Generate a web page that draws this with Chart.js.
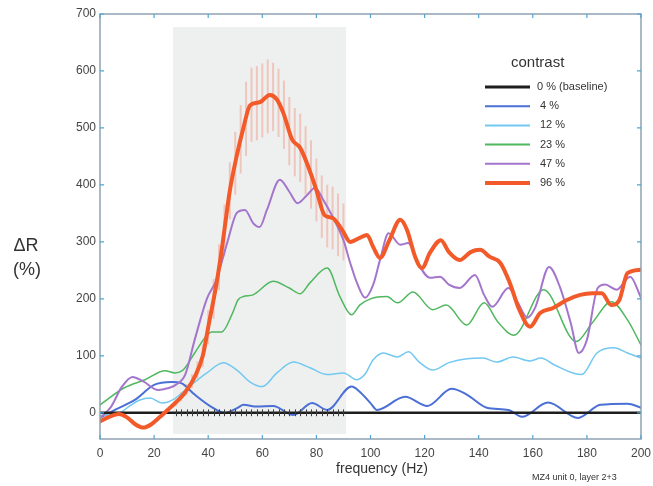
<!DOCTYPE html>
<html><head><meta charset="utf-8">
<script src="https://cdn.jsdelivr.net/npm/chart.js@4/dist/chart.umd.min.js"></script>
<style>html,body{margin:0;padding:0;background:#fff}#wrap{width:653px;height:486px;position:relative}</style>
</head><body><div id="wrap"><canvas id="c" width="653" height="486"></canvas></div>
<script>
// ---- data ----
const xTicks = [0, 20, 40, 60, 80, 100, 120, 140, 160, 180, 200];
const yTicks = [0, 100, 200, 300, 400, 500, 600, 700];
const seriesLabels = ['0 % (baseline)', '4 %', '12 %', '23 %', '47 %', '96 %'];
const legendTitle = 'contrast';
const xTitle = 'frequency (Hz)';
const yTitle = ['\u0394R', '(%)'];
const footnote = 'MZ4 unit 0, layer 2+3';

const freqBase = [0, 200];
const valBase = [0, 0];

const freq4 = [0, 5.5, 13, 20, 26.6, 30, 35, 41, 46, 51, 53, 58, 64, 71.5, 78.4, 84, 93, 96, 100, 102.4, 112.8, 121, 130, 135.6, 143, 151, 156, 165.6, 176.7, 185, 195, 200];
const val4 = [-9, 5, 23, 49, 54, 52, 32, 11, 0, 9, 14, 11, 12, -4, 17, 5, 46, 37, 17, 5, 28, 12, 42, 32, 9, 5, -7, 18, -9, 14, 16, 9];

const freq12 = [0, 4, 7.4, 11, 14.5, 18.5, 23, 27, 33, 39.5, 45.6, 50.6, 55.5, 60, 65.4, 71.5, 77.6, 84, 90, 95, 98, 101, 104.7, 110, 114, 118, 123, 129, 135.6, 141.6, 146.7, 152.7, 159, 163, 168, 178, 183.7, 190, 195, 200];
const val12 = [-5, -3, 0, 12, 22, 26, 17, 23, 46, 70, 88, 75, 54, 46, 70, 89, 79, 67, 70, 58, 68, 93, 105, 98, 107, 89, 75, 88, 95, 96, 89, 98, 91, 96, 84, 67, 105, 114, 105, 96];

const freq23 = [0, 9, 16.6, 24, 27.7, 30.7, 35, 39, 41.4, 45, 49, 51, 53, 56.6, 64, 70, 74, 77.6, 84, 88.7, 93, 96, 100, 106, 110, 115.7, 123, 128, 135.6, 142, 147, 153, 164, 176, 182, 189, 195, 200];
const val23 = [14, 44, 58, 74, 70, 75, 105, 133, 142, 142, 175, 198, 204, 207, 231, 219, 209, 228, 254, 204, 172, 189, 200, 204, 193, 212, 181, 189, 154, 193, 160, 136, 216, 125, 158, 195, 163, 119];

const freq47 = [0, 4, 8, 12, 16, 21.5, 25, 28, 31.5, 35, 39.5, 43, 47, 50.6, 53.6, 56.6, 59, 61.7, 66.5, 70, 73, 76.5, 79.5, 82.5, 86, 90, 92.5, 95, 98, 101, 103.5, 106.7, 111, 114, 117.5, 122, 125.7, 129, 133, 138.6, 142, 145, 151, 154.5, 158, 161, 166, 170, 174, 177, 180, 184, 186.7, 191, 196, 200];
const val47 = [-9, 10, 45, 63, 55, 40, 43, 49, 67, 128, 200, 233, 298, 351, 356, 333, 326, 356, 409, 388, 368, 382, 395, 374, 344, 303, 263, 228, 202, 225, 268, 315, 295, 298, 263, 237, 239, 225, 219, 242, 207, 186, 219, 193, 167, 186, 256, 221, 158, 105, 128, 219, 225, 216, 239, 202];

const freq96 = [0, 3, 7, 10, 13, 16, 19, 22, 25, 28, 31, 35, 38, 40, 43, 45, 48, 50.5, 53, 55.5, 59, 62.8, 65.4, 67.8, 71, 74, 77, 80, 83, 86, 89.5, 92.5, 96, 98.7, 101, 103.5, 107, 111, 113.5, 116.5, 119, 122, 126, 129, 133, 137, 140.5, 144, 148, 151.5, 155, 159, 162.7, 167.5, 172.6, 177.5, 182, 185.5, 189, 192, 195, 200];
const val96 = [-15, -8, -2, -8, -20, -26, -20, -8, 5, 18, 33, 63, 100, 150, 225, 286, 390, 450, 500, 540, 545, 558, 550, 526, 480, 465, 432, 391, 347, 342, 321, 300, 307, 312, 291, 272, 303, 339, 321, 274, 254, 281, 303, 282, 268, 282, 286, 274, 263, 228, 181, 151, 175, 184, 198, 207, 210, 210, 189, 198, 245, 251];

// error bars (half lengths) on a common frequency grid
const errFreq = [28, 30, 32, 34, 36, 38, 40, 42, 44, 46, 48, 50, 52, 54, 56, 58, 60, 62, 64, 66, 68, 70, 72, 74, 76, 78, 80, 82, 84, 86, 88, 90];
const err96 = [6, 8, 10, 12, 15, 20, 30, 35, 40, 45, 50, 55, 60, 65, 65, 65, 65, 65, 60, 60, 60, 60, 60, 60, 60, 60, 55, 55, 55, 55, 55, 50];
const errBase = [6, 6, 6, 6, 6, 6, 6, 6, 6, 6, 6, 6, 6, 6, 6, 6, 6, 6, 6, 6, 6, 6, 6, 6, 6, 6, 6, 6, 6, 6, 6, 6];

// shaded stimulus window
const shadeFreq = [27, 91];
const shadeVal = [-37, 677];

// ---- styles ----
const colors = ['#1e1e1e', '#4a6fd6', '#72c8f0', '#4fb85e', '#a475cc', '#f25a2a'];
const widths = [2.5, 2, 1.5, 1.5, 2, 4];
const orders = [1, 5, 4, 3, 2, 0];
const FONT = '"Liberation Sans", Arial, sans-serif';

const freqs = [freqBase, freq4, freq12, freq23, freq47, freq96];
const vals = [valBase, val4, val12, val23, val47, val96];

function zip(f, v) { return f.map((x, i) => ({ x: x, y: v[i] })); }
function interp(f, v, x) {
  for (let i = 0; i < f.length - 1; i++) {
    if (x >= f[i] && x <= f[i + 1]) { const t = (x - f[i]) / (f[i + 1] - f[i]); return v[i] + t * (v[i + 1] - v[i]); }
  }
  return v[v.length - 1];
}

const datasets = seriesLabels.map((lab, i) => ({
  label: lab,
  data: zip(freqs[i], vals[i]),
  borderColor: colors[i],
  borderWidth: widths[i],
  pointRadius: 0,
  fill: false,
  cubicInterpolationMode: 'monotone',
  order: orders[i],
  borderCapStyle: 'round',
  borderJoinStyle: 'round'
}));

const decor = {
  id: 'decor',
  beforeDatasetsDraw(chart) {
    const { ctx, chartArea: a, scales: { x, y } } = chart;
    ctx.save();
    ctx.fillStyle = '#eef0f0';
    const x0 = x.getPixelForValue(shadeFreq[0]), x1 = x.getPixelForValue(shadeFreq[1]);
    const y0 = y.getPixelForValue(shadeVal[1]), y1 = y.getPixelForValue(shadeVal[0]);
    ctx.fillRect(x0, y0, x1 - x0, y1 - y0);
    // 96% error bars
    ctx.strokeStyle = 'rgba(242,110,80,0.32)';
    ctx.lineWidth = 2;
    errFreq.forEach((f, i) => {
      const c = interp(freq96, val96, f);
      const px = x.getPixelForValue(f);
      ctx.beginPath();
      ctx.moveTo(px, y.getPixelForValue(c - err96[i]));
      ctx.lineTo(px, y.getPixelForValue(c + err96[i]));
      ctx.stroke();
    });
    ctx.restore();
  },
  afterDatasetsDraw(chart) {
    const { ctx, chartArea: a, scales: { x, y } } = chart;
    ctx.save();
    // baseline error ticks
    ctx.strokeStyle = '#3a3a3a';
    ctx.lineWidth = 1;
    errFreq.forEach((f, i) => {
      const px = Math.round(x.getPixelForValue(f)) + 0.5;
      ctx.beginPath();
      ctx.moveTo(px, y.getPixelForValue(-errBase[i]));
      ctx.lineTo(px, y.getPixelForValue(errBase[i]));
      ctx.stroke();
    });
    // frame
    ctx.strokeStyle = '#8fa2b2';
    ctx.lineWidth = 1.5;
    ctx.strokeRect(a.left, a.top, a.right - a.left, a.bottom - a.top);
    // inward ticks
    ctx.strokeStyle = '#4ea5d6';
    ctx.lineWidth = 1.2;
    const tl = 4;
    xTicks.forEach(v => {
      const px = x.getPixelForValue(v);
      ctx.beginPath();
      ctx.moveTo(px, a.bottom); ctx.lineTo(px, a.bottom - tl);
      ctx.moveTo(px, a.top); ctx.lineTo(px, a.top + tl);
      ctx.stroke();
    });
    yTicks.forEach(v => {
      const py = y.getPixelForValue(v);
      ctx.beginPath();
      ctx.moveTo(a.left, py); ctx.lineTo(a.left + tl, py);
      ctx.moveTo(a.right, py); ctx.lineTo(a.right - tl, py);
      ctx.stroke();
    });
    // legend
    ctx.fillStyle = '#333';
    ctx.textBaseline = 'middle';
    ctx.textAlign = 'left';
    ctx.font = '15px ' + FONT;
    ctx.fillText(legendTitle, 511, 63);
    ctx.font = '11px ' + FONT;
    seriesLabels.forEach((lab, i) => {
      const ry = 87 + i * 19.2;
      ctx.strokeStyle = colors[i];
      ctx.lineWidth = i === 0 ? 3 : (i === 5 ? 4 : 2);
      ctx.beginPath(); ctx.moveTo(485, ry); ctx.lineTo(530, ry); ctx.stroke();
      ctx.fillStyle = '#333';
      ctx.fillText(lab, i === 0 ? 537 : 540, ry);
    });
    // titles
    ctx.fillStyle = '#333';
    ctx.textAlign = 'center';
    ctx.font = '18px ' + FONT;
    ctx.fillText(yTitle[0], 26, 246);
    ctx.fillText(yTitle[1], 27, 270);
    ctx.font = '14px ' + FONT;
    ctx.fillText(xTitle, 382, 469);
    ctx.textAlign = 'left';
    ctx.font = '9px ' + FONT;
    ctx.fillText(footnote, 532, 478);
    ctx.restore();
  }
};

new Chart(document.getElementById('c'), {
  type: 'line',
  data: { datasets: datasets },
  options: {
    responsive: false,
    animation: false,
    events: [],
    layout: { padding: { top: 14, right: 12, left: 0, bottom: 0 } },
    plugins: { legend: { display: false }, tooltip: { enabled: false } },
    scales: {
      x: {
        type: 'linear', min: 0, max: 200,
        afterBuildTicks: s => { s.ticks = xTicks.map(v => ({ value: v })); },
        afterFit: s => { s.height = 47; s.paddingLeft = 0; s.paddingRight = 0; },
        grid: { display: false, drawTicks: false },
        border: { display: false },
        ticks: { color: '#444', font: { family: FONT, size: 12 }, padding: 7, maxRotation: 0, autoSkip: false }
      },
      y: {
        type: 'linear', min: -46, max: 700,
        afterBuildTicks: s => { s.ticks = yTicks.map(v => ({ value: v })); },
        afterFit: s => { s.width = 100; s.paddingTop = 0; s.paddingBottom = 0; },
        grid: { display: false, drawTicks: false },
        border: { display: false },
        ticks: { color: '#444', font: { family: FONT, size: 12 }, padding: 4, autoSkip: false }
      }
    }
  },
  plugins: [decor]
});
</script></body></html>
